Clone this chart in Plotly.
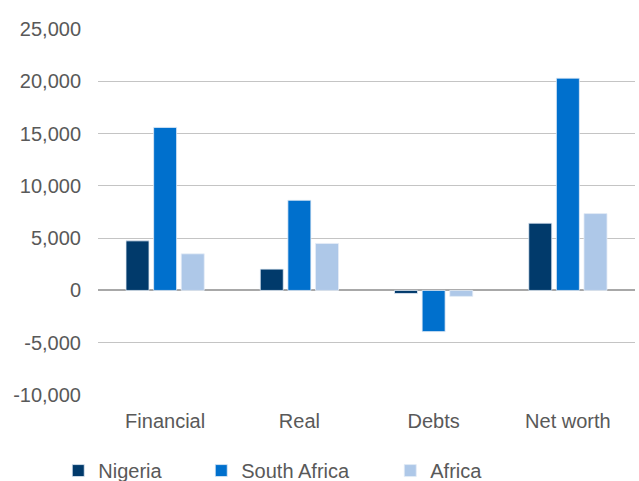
import plotly.graph_objects as go

# Categories and series
categories = ["Financial", "Real", "Debts", "Net worth"]
nigeria = [4740, 2040, -290, 6430]
south_africa = [15590, 8620, -3940, 20300]
africa = [3500, 4490, -570, 7350]

y_ticks = [-10000, -5000, 0, 5000, 10000, 15000, 20000, 25000]
y_labels = ["-10,000", "-5,000", "0", "5,000", "10,000", "15,000", "20,000", "25,000"]

COLORS = {
    "Nigeria": "#013A6B",
    "South Africa": "#0070CD",
    "Africa": "#AEC8E8",
    "grid": "#C4C4C4",
    "zero": "#A8A8A8",
    "font": "#595959",
}

# legend entry widths, so the gaps match the reference
LEGEND_W = {"Nigeria": 98, "South Africa": 144, "Africa": 60}

fig = go.Figure()
for name, vals in [("Nigeria", nigeria), ("South Africa", south_africa), ("Africa", africa)]:
    fig.add_trace(go.Bar(
        x=categories, y=vals, name=name,
        marker=dict(color=COLORS[name], line=dict(color="#E4ECF6", width=0.8)),
        legendwidth=LEGEND_W[name],
    ))

fig.update_layout(
    width=639, height=481,
    paper_bgcolor="white", plot_bgcolor="white",
    font=dict(family="Liberation Sans, Arial, sans-serif", size=20, color=COLORS["font"]),
    margin=dict(l=98, r=4, t=29, b=86, autoexpand=False),
    barmode="group",
    bargap=0.383,
    bargroupgap=0.167,
    showlegend=True,
    legend=dict(
        orientation="h", x=-0.074, xanchor="left", y=-0.2065, yanchor="middle",
        font=dict(size=20, color=COLORS["font"]),
        itemwidth=30, tracegroupgap=0,
    ),
    xaxis=dict(showgrid=False, showline=False, ticks="", ticklabelstandoff=12),
    yaxis=dict(
        range=[-10000, 25000], tickvals=y_ticks, ticktext=y_labels,
        showgrid=True, gridcolor=COLORS["grid"], gridwidth=1,
        zeroline=True, zerolinecolor=COLORS["zero"], zerolinewidth=1.5,
        ticks="", ticklabelstandoff=16,
    ),
)

fig.write_html("out.html", config={"displayModeBar": False},
               post_script="document.body.style.margin='0';")
